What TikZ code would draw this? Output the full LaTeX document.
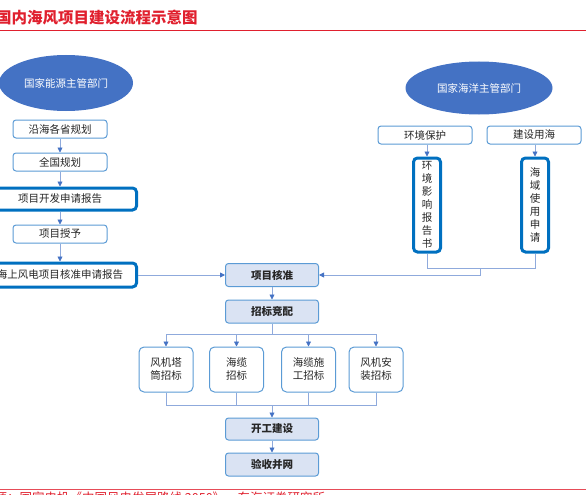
\documentclass[tikz,border=0pt]{standalone}
\usepackage{fontspec}
\setmainfont{Noto Sans CJK SC}
\usetikzlibrary{arrows.meta,shapes.geometric}
\definecolor{ellblue}{HTML}{4472C4}
\definecolor{bord}{HTML}{5B9BD5}
\definecolor{thickb}{HTML}{0070C0}
\definecolor{lnk}{HTML}{8FAADC}
\definecolor{fillb}{HTML}{DAE3F3}
\definecolor{titlered}{HTML}{E0202E}
\definecolor{txt}{HTML}{262626}
\begin{document}
\begin{tikzpicture}[x=1pt,y=-1pt,
  every node/.style={text=txt},
  ell/.style={ellipse, fill=ellblue, text=white, inner sep=0pt, font=\fontsize{10.5}{12}\selectfont},
  box/.style={draw=bord, line width=1pt, rounded corners=3pt, fill=white, inner sep=0pt,
    minimum width=94pt, minimum height=18pt, align=center, font=\fontsize{10.5}{12}\selectfont},
  thickbox/.style={draw=thickb, line width=3pt, rounded corners=4pt, fill=white, inner sep=0pt,
    align=center, font=\fontsize{10.5}{12}\selectfont},
  vbox/.style={thickbox, minimum width=27pt, minimum height=94pt, font=\fontsize{10.5}{13}\selectfont},
  core/.style={draw=bord, line width=1pt, rounded corners=3pt, fill=fillb, inner sep=0pt,
    minimum width=93pt, minimum height=23pt, font=\fontsize{10.5}{12}\selectfont\bfseries},
  bid/.style={draw=bord, line width=1pt, rounded corners=5pt, fill=white, inner sep=0pt,
    minimum width=54pt, minimum height=45pt, align=center, font=\fontsize{10.5}{13}\selectfont},
  lnkline/.style={draw=lnk, line width=0.8pt},
  arr/.style={lnkline, -{Triangle[length=5pt,width=5pt,color=ellblue]}}
]
\useasboundingbox (0,0) rectangle (586,495);

% title and rules
\node[anchor=base west, inner sep=0pt, text=titlered, font=\fontsize{15.5}{16}\selectfont\bfseries] (title) at (-4,24) {国内海风项目建设流程示意图};
\draw[titlered, line width=1pt] (0,31) -- (586,31);
\draw[titlered!80, line width=0.8pt] (0,489) -- (586,489);
\node[anchor=base west, inner sep=0pt, text=titlered, font=\fontsize{12.5}{13}\selectfont] (src) at (-43,502) {资料来源：国家电投《中国风电发展路线 2050》，东海证券研究所};

% left column
\node[ell, minimum width=134pt, minimum height=56pt] (le) at (66,83) {国家能源主管部门};
\node[box] (l1) at (60,129) {沿海各省规划};
\node[box] (l2) at (60,162) {全国规划};
\node[thickbox, minimum width=153pt, minimum height=22pt] (l3) at (60,199) {项目开发申请报告};
\node[box] (l4) at (60,234) {项目授予};
\node[thickbox, minimum width=153pt, minimum height=24pt] (l5) at (60,275) {海上风电项目核准申请报告};

% right column
\node[ell, minimum width=147pt, minimum height=53pt] (re) at (479,88) {国家海洋主管部门};
\node[box] (r1) at (425,135) {环境保护};
\node[box] (r2) at (534,135) {建设用海};
\node[vbox] (r3) at (427,205) {环\\境\\影\\响\\报\\告\\书};
\node[vbox] (r4) at (535,205) {海\\域\\使\\用\\申\\请};

% center column
\node[core] (c1) at (272,275) {项目核准};
\node[core] (c2) at (272,311.5) {招标竞配};
\node[bid] (b1) at (166,369.5) {风机塔\\筒招标};
\node[bid] (b2) at (236.5,369.5) {海缆\\招标};
\node[bid] (b3) at (308.5,369.5) {海缆施\\工招标};
\node[bid] (b4) at (376,369.5) {风机安\\装招标};
\node[core, minimum height=22pt] (c3) at (272,429) {开工建设};
\node[core] (c4) at (272,464.5) {验收并网};

% left connectors
\draw[arr] (l1) -- (l2);
\draw[arr] (l2) -- (l3);
\draw[arr] (l3) -- (l4);
\draw[arr] (l4) -- (l5);
\draw[arr] (l5.east) -- (c1.west);

% right connectors
\draw[arr] (r3.north |- r1.south) -- (r3.north);
\draw[arr] (r4.north |- r2.south) -- (r4.north);
\coordinate (rj) at (480,268);
\draw[lnkline] (r3.south) |- (rj);
\draw[lnkline] (r4.south) |- (rj);
\draw[arr] (rj) |- (c1.east);

% center connectors
\draw[arr] (c1) -- (c2);
\draw[lnkline] (c2.south) -- ++(0,10.5) coordinate (sp);
\draw[arr] (sp) -| (b1.north);
\draw[arr] (sp) -| (b2.north);
\draw[arr] (sp) -| (b3.north);
\draw[arr] (sp) -| (b4.north);
\coordinate (jn) at (272,405);
\draw[lnkline] (b1.south) |- (jn);
\draw[lnkline] (b2.south) |- (jn);
\draw[lnkline] (b3.south) |- (jn);
\draw[lnkline] (b4.south) |- (jn);
\draw[arr] (jn) -- (c3.north);
\draw[arr] (c3) -- (c4);
\end{tikzpicture}
\end{document}
